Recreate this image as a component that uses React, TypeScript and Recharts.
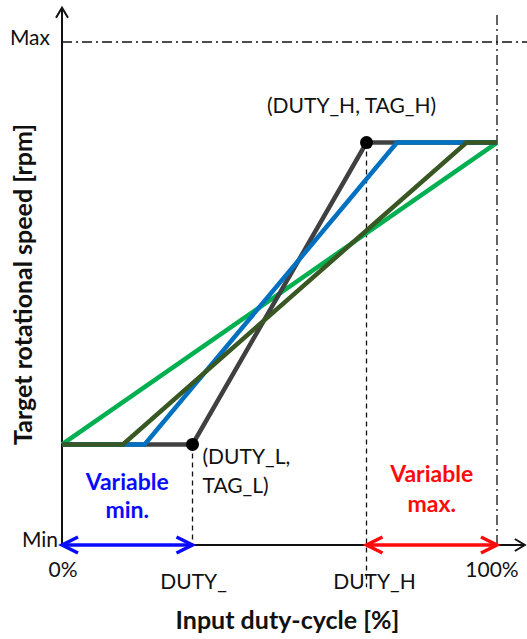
import React from "react";
import { LineChart, Line, XAxis, YAxis, ReferenceLine, ReferenceDot, Label } from "recharts";

const dutyL = 30
const dutyH = 70
const tagL = 20
const tagH = 80

const grayX = [0, dutyL, dutyH, 100]
const grayY = [tagL, tagL, tagH, tagH]
const blueX = [0, 19, 77, 100]
const blueY = [tagL, tagL, tagH, tagH]
const darkGreenX = [0, 14, 93, 100]
const darkGreenY = [tagL, tagL, tagH, tagH]
const greenX = [0, 100]
const greenY = [tagL, tagH]

const xTicks = [0, dutyL, dutyH, 100]
const xTickLabels = ["0%", "DUTY_", "DUTY_H", "100%"]
const yTicks = [0, 100]
const yTickLabels = ["Min", "Max"]

const toPoints = (xs: number[], ys: number[]) => xs.map((x, i) => ({ x, y: ys[i] }))

const FONT = "Lato, 'Open Sans', sans-serif"

function arrowShape(color: string, width: number, both: boolean, len: number, half: number) {
  return (props: any) => {
    const { x1, y1, x2, y2 } = props
    const dx = x2 - x1
    const dy = y2 - y1
    const d = Math.sqrt(dx * dx + dy * dy) || 1
    const ux = dx / d
    const uy = dy / d
    const head = (tx: number, ty: number, sx: number, sy: number) => {
      const bx = tx - sx * len
      const by = ty - sy * len
      return (
        <polyline
          points={`${bx - sy * half},${by + sx * half} ${tx},${ty} ${bx + sy * half},${by - sx * half}`}
          fill="none" stroke={color} strokeWidth={width} strokeLinejoin="miter" strokeLinecap="butt"
        />
      )
    }
    return (
      <g>
        <line x1={x1} y1={y1} x2={x2} y2={y2} stroke={color} strokeWidth={width} />
        {head(x2, y2, ux, uy)}
        {both && head(x1, y1, -ux, -uy)}
      </g>
    )
  }
}

function textShape(lines: string[], dx: number, dy: number, color: string, bold: boolean, anchor: string, size: number, lineGap: number) {
  return (props: any) => {
    const { cx, cy } = props
    return (
      <g>
        {lines.map((t, i) => (
          <text key={i} x={cx + dx} y={cy + dy + i * lineGap} fill={color} fontSize={size}
            fontWeight={bold ? 700 : 400} fontFamily={FONT} textAnchor={anchor as any}>{t}</text>
        ))}
      </g>
    )
  }
}

function XTick(props: any) {
  const { x, y, payload, index } = props
  const low = payload.value === dutyL || payload.value === dutyH
  const shift = payload.value === dutyH ? 8 : payload.value === 100 ? -5 : 1
  return (
    <text x={x + shift} y={y + (low ? 42 : 30)} textAnchor="middle" fontSize={21} fontFamily={FONT} fill="#111">
      {xTickLabels[index]}
    </text>
  )
}

function YTick(props: any) {
  const { y, payload, index } = props
  const isMax = payload.value === 100
  return (
    <text x={isMax ? 50 : 58} y={y + (isMax ? 3 : 2)} textAnchor="end" fontSize={21} fontFamily={FONT} fill="#111">
      {yTickLabels[index]}
    </text>
  )
}

function XTitle(props: any) {
  const { viewBox } = props
  return (
    <text x={viewBox.x + viewBox.width / 2 + 8} y={viewBox.y + 84} textAnchor="middle" fontSize={25}
      fontWeight={700} fontFamily={FONT} fill="#111">Input duty-cycle [%]</text>
  )
}

function YTitle(props: any) {
  const { viewBox } = props
  const cy = viewBox.y + viewBox.height / 2 - 9
  return (
    <text x={32} y={cy} transform={`rotate(-90, 32, ${cy})`} textAnchor="middle" fontSize={25}
      fontWeight={700} fontFamily={FONT} fill="#111">Target rotational speed [rpm]</text>
  )
}

export default function App() {
  return (
    <div style={{ position: "absolute", left: 0, top: 0 }}>
      <LineChart width={527} height={639} margin={{ top: 42, right: 30, bottom: 0, left: 0 }}>
        <XAxis type="number" dataKey="x" domain={[0, 100]} ticks={xTicks} tick={XTick} axisLine={false}
          tickLine={false} tickSize={0} height={94} interval={0}>
          <Label content={XTitle} />
        </XAxis>
        <YAxis type="number" dataKey="y" domain={[0, 100]} ticks={yTicks} tick={YTick} axisLine={false}
          tickLine={false} tickSize={0} width={62} interval={0}>
          <Label content={YTitle} />
        </YAxis>

        <ReferenceLine segment={[{ x: 0, y: 100 }, { x: 107, y: 100 }]} ifOverflow="visible" stroke="#111"
          strokeWidth={1.3} strokeDasharray="10 4 2 4" />
        <ReferenceLine segment={[{ x: 100, y: 0 }, { x: 100, y: 105.4 }]} ifOverflow="visible" stroke="#111"
          strokeWidth={1.3} strokeDasharray="10 4 2 4" />
        <ReferenceLine segment={[{ x: dutyL, y: tagL }, { x: dutyL, y: 0 }]} ifOverflow="visible" stroke="#111"
          strokeWidth={1.3} strokeDasharray="5 4" />
        <ReferenceLine segment={[{ x: dutyH, y: tagH }, { x: dutyH, y: -8.4 }]} ifOverflow="visible" stroke="#111"
          strokeWidth={1.3} strokeDasharray="5 4" />

        <ReferenceLine segment={[{ x: 0, y: 0 }, { x: 106.4, y: 0 }]} ifOverflow="visible"
          shape={arrowShape("#111", 2, false, 10, 6)} />
        <ReferenceLine segment={[{ x: 0, y: 0 }, { x: 0, y: 106.8 }]} ifOverflow="visible"
          shape={arrowShape("#111", 2, false, 10, 6)} />
        <ReferenceLine segment={[{ x: 0, y: 0 }, { x: dutyL, y: 0 }]} ifOverflow="visible"
          shape={arrowShape("#0A0AFF", 3.5, true, 16, 8)} />
        <ReferenceLine segment={[{ x: dutyH, y: 0 }, { x: 100, y: 0 }]} ifOverflow="visible"
          shape={arrowShape("#FF0A0A", 3.5, true, 16, 8)} />

        <Line data={toPoints(greenX, greenY)} dataKey="y" stroke="#00B050" strokeWidth={4.5} dot={false}
          isAnimationActive={false} />
        <Line data={toPoints(grayX, grayY)} dataKey="y" stroke="#404040" strokeWidth={4.5} dot={false}
          isAnimationActive={false} />
        <Line data={toPoints(blueX, blueY)} dataKey="y" stroke="#0070C0" strokeWidth={4.5} dot={false}
          isAnimationActive={false} />
        <Line data={toPoints(darkGreenX, darkGreenY)} dataKey="y" stroke="#385723" strokeWidth={4.5} dot={false}
          isAnimationActive={false} />

        <ReferenceDot x={dutyL} y={tagL} r={6.5} fill="#000" stroke="none" />
        <ReferenceDot x={dutyH} y={tagH} r={6.5} fill="#000" stroke="none" />

        <ReferenceDot x={dutyH} y={tagH} r={0}
          shape={textShape(["(DUTY_H, TAG_H)"], -15, -30, "#111", false, "middle", 21, 29)} />
        <ReferenceDot x={dutyL} y={tagL} r={0}
          shape={textShape(["(DUTY_L,", "TAG_L)"], 10, 20, "#111", false, "start", 21, 29)} />
        <ReferenceDot x={dutyL / 2} y={0} r={0} ifOverflow="visible"
          shape={textShape(["Variable", "min."], 0, -55, "#0A0AFF", true, "middle", 23, 28)} />
        <ReferenceDot x={(dutyH + 100) / 2} y={0} r={0} ifOverflow="visible"
          shape={textShape(["Variable", "max."], 0, -63, "#FF0A0A", true, "middle", 23, 30)} />
      </LineChart>
    </div>
  )
}
